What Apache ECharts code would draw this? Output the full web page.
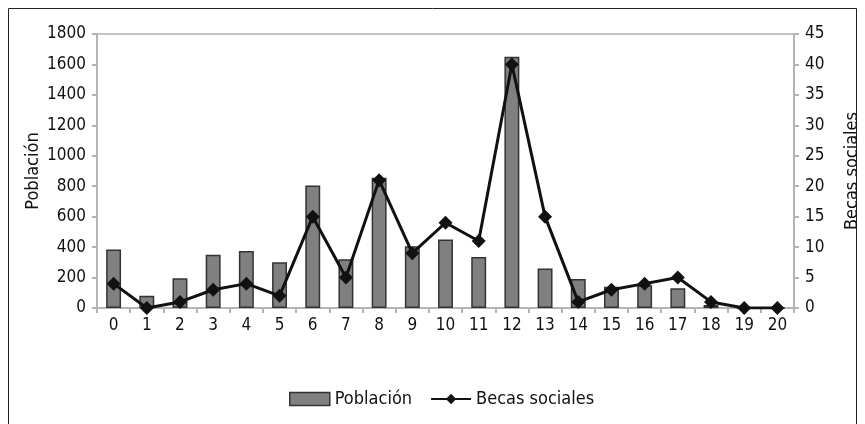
<!DOCTYPE html>
<html>
<head>
<meta charset="utf-8">
<script src="https://cdn.jsdelivr.net/npm/echarts@6/dist/echarts.min.js"></script>
<style>
  html, body { margin: 0; padding: 0; background: #fff; }
  #chart { width: 865px; height: 424px; }
</style>
</head>
<body>
<div id="chart"></div>
<script>
// edades (categorías del eje x)
const categorias = ['0','1','2','3','4','5','6','7','8','9','10','11','12','13','14','15','16','17','18','19','20']
// población por edad (eje izquierdo)
const poblacion = [385, 80, 195, 350, 375, 300, 805, 320, 855, 405, 450, 335, 1650, 260, 190, 140, 150, 130, 20, 0, 0]
// becas sociales por edad (eje derecho)
const becas = [4, 0, 1, 3, 4, 2, 15, 5, 21, 9, 14, 11, 40, 15, 1, 3, 4, 5, 1, 0, 0]

const fuente = '"DejaVu Sans Condensed", "Liberation Sans Narrow", sans-serif'
const ejeGris = '#b4b4b4'
const sinSeparador = v => String(v)

const chart = echarts.init(document.getElementById('chart'))

const option = {
  backgroundColor: '#fff',
  animation: false,
  textStyle: { fontFamily: fuente },
  graphic: [{
    type: 'rect',
    shape: { x: 8.5, y: 8.5, width: 848, height: 430 },
    style: { fill: 'none', stroke: '#222', lineWidth: 1 },
    silent: true
  }],
  grid: {
    left: 97,
    right: 71,
    top: 34,
    bottom: 116,
    containLabel: false,
    outerBoundsMode: 'none',
    show: true,
    borderColor: '#c4c4c4',
    borderWidth: 2
  },
  legend: {
    left: 284,
    top: 385,
    itemGap: 18,
    textStyle: { fontSize: 18, color: '#111', fontFamily: fuente },
    data: [
      { name: 'Población', icon: 'rect', itemStyle: { color: '#808080', borderColor: '#333', borderWidth: 1.5 } },
      { name: 'Becas sociales' }
    ],
    itemWidth: 40,
    itemHeight: 13
  },
  xAxis: {
    type: 'category',
    data: categorias,
    boundaryGap: true,
    axisLine: { lineStyle: { color: ejeGris, width: 2 } },
    axisTick: { show: true, length: 5, lineStyle: { color: ejeGris, width: 2 } },
    axisLabel: { fontSize: 17, color: '#111', margin: 9, fontFamily: fuente }
  },
  yAxis: [
    {
      type: 'value',
      min: 0,
      max: 1800,
      interval: 200,
      name: 'Población',
      nameLocation: 'middle',
      nameGap: 55,
      nameMoveOverlap: false,
      nameTextStyle: { fontSize: 18, color: '#111', fontFamily: fuente },
      axisLine: { show: true, lineStyle: { color: ejeGris, width: 2 } },
      axisTick: { show: true, length: 5, lineStyle: { color: ejeGris, width: 2 } },
      axisLabel: { fontSize: 17, color: '#111', margin: 11, fontFamily: fuente, formatter: sinSeparador },
      splitLine: { show: false }
    },
    {
      type: 'value',
      min: 0,
      max: 45,
      interval: 5,
      name: 'Becas sociales',
      nameLocation: 'middle',
      nameGap: 49,
      nameRotate: 90,
      nameMoveOverlap: false,
      nameTextStyle: { fontSize: 18, color: '#111', fontFamily: fuente },
      axisLine: { show: true, lineStyle: { color: ejeGris, width: 2 } },
      axisTick: { show: true, length: 5, lineStyle: { color: ejeGris, width: 2 } },
      axisLabel: { fontSize: 17, color: '#111', margin: 11, fontFamily: fuente, formatter: sinSeparador },
      splitLine: { show: false }
    }
  ],
  series: [
    {
      name: 'Población',
      type: 'bar',
      yAxisIndex: 0,
      data: poblacion,
      barWidth: '45%',
      itemStyle: { color: '#808080', borderColor: '#333', borderWidth: 1.5 }
    },
    {
      name: 'Becas sociales',
      type: 'line',
      yAxisIndex: 1,
      data: becas,
      symbol: 'diamond',
      symbolSize: 14,
      lineStyle: { color: '#111', width: 3 },
      itemStyle: { color: '#111' }
    }
  ]
}

chart.setOption(option)
</script>
</body>
</html>
